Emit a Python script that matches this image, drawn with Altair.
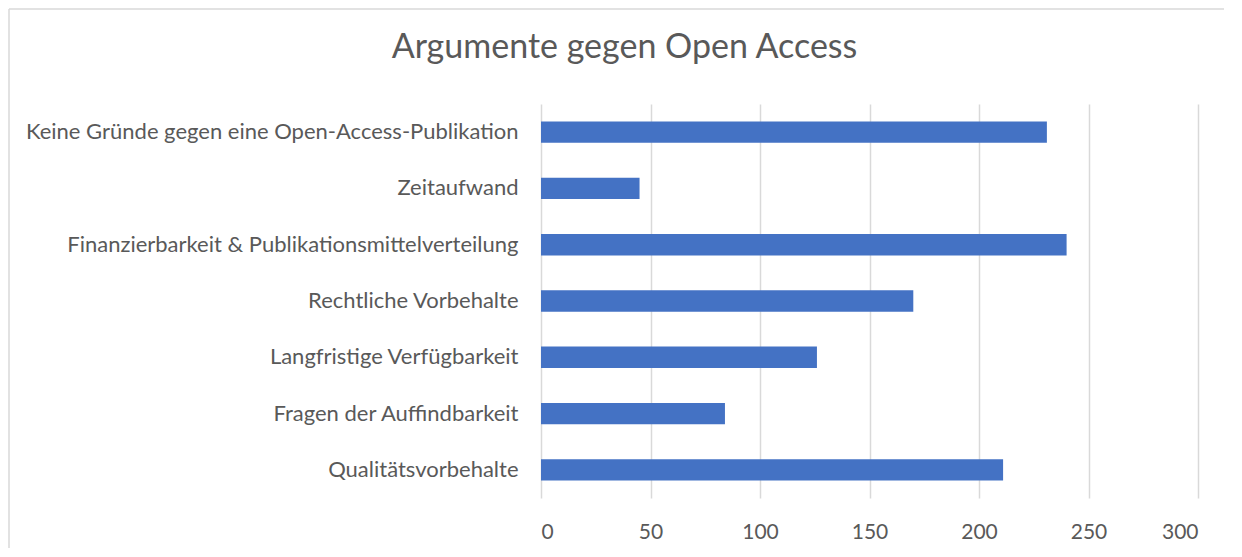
import altair as alt
import pandas as pd

categories = [
    "Keine Gründe gegen eine Open-Access-Publikation",
    "Zeitaufwand",
    "Finanzierbarkeit & Publikationsmittelverteilung",
    "Rechtliche Vorbehalte",
    "Langfristige Verfügbarkeit",
    "Fragen der Auffindbarkeit",
    "Qualitätsvorbehalte",
]
values = [231, 45, 240, 170, 126, 84, 211]
x_ticks = [0, 50, 100, 150, 200, 250, 300]
title_text = ["Argumente gegen Open Access"]

df = pd.DataFrame({"kategorie": categories, "anzahl": values})

FONT = "Lato"
GREY = "#595959"
BORDER = "#d9d9d9"

bars = alt.Chart(df).mark_bar(color="#4472C4").encode(
    y=alt.Y(
        "kategorie:N",
        sort=categories,
        title=None,
        scale=alt.Scale(paddingInner=0.62, paddingOuter=0.31),
        axis=alt.Axis(
            domain=False, ticks=False, grid=False,
            labelFont=FONT, labelFontSize=22, labelColor=GREY,
            labelPadding=23, labelLimit=600,
        ),
    ),
    x=alt.X(
        "anzahl:Q",
        title=None,
        scale=alt.Scale(domain=[0, 300], nice=False),
        axis=alt.Axis(
            values=x_ticks, domain=False, ticks=False,
            grid=True, gridColor=BORDER, gridWidth=1.5,
            labelFont=FONT, labelFontSize=21, labelColor=GREY,
            labelPadding=23,
        ),
    ),
)

one = pd.DataFrame({"t": title_text})

left_edge = alt.Chart(one).mark_rule(color=BORDER, strokeWidth=1.5).encode(
    x=alt.value(-532), y=alt.value(-95), y2=alt.value(700)
)
top_edge = alt.Chart(one).mark_rule(color=BORDER, strokeWidth=1.5).encode(
    x=alt.value(-532), x2=alt.value(720), y=alt.value(-95)
)

title = alt.Chart(one).mark_text(
    font=FONT, fontSize=34, color=GREY, align="center", baseline="alphabetic"
).encode(
    x=alt.value(83.5), y=alt.value(-46), text="t:N"
)

chart = alt.layer(left_edge, top_edge, title, bars).properties(
    width=657,
    height=394,
    autosize=alt.AutoSizeParams(type="none"),
    padding={"left": 533, "top": 96, "right": 26, "bottom": 50},
).configure_view(stroke=None)

chart.save("out.html", embed_options={"renderer": "svg", "actions": False})
